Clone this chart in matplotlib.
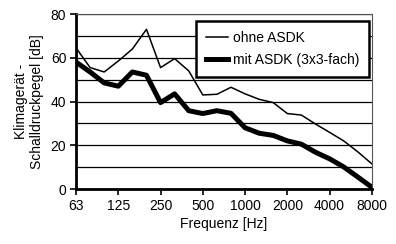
import matplotlib
matplotlib.use("Agg")
import matplotlib.pyplot as plt
import numpy as np

plt.rcParams["font.family"] = ["Liberation Sans", "DejaVu Sans"]

# third-octave band centres, 63 Hz .. 8 kHz
bands = [63, 80, 100, 125, 160, 200, 250, 315, 400, 500, 630, 800,
         1000, 1250, 1600, 2000, 2500, 3150, 4000, 5000, 6300, 8000]
tick_labels = ["63", "125", "250", "500", "1000", "2000", "4000", "8000"]

ohne_asdk = [64.5, 55.5, 53.5, 58.5, 64, 73, 55.5, 59.6, 54, 43, 43.3, 46.5,
             43.5, 41, 39.5, 34.5, 33.8, 29.7, 25.9, 22, 17, 11.5]
mit_asdk = [58, 53.5, 48.5, 47, 53.5, 52, 39.5, 43.5, 35.8, 34.5, 35.8, 34.6,
            28, 25.5, 24.5, 22, 20.5, 16.8, 13.8, 10.1, 5.5, 0.8]

fig = plt.figure(figsize=(3.96, 2.44), dpi=100)
ax = fig.add_axes([0.192, 0.2254, 0.747, 0.7172])

x = np.arange(len(bands))
ax.plot(x, ohne_asdk, color="black", lw=1.1, label="ohne ASDK")
ax.plot(x, mit_asdk, color="black", lw=3.6, label="mit ASDK (3x3-fach)")

ax.set_xlim(0, len(bands) - 1)
ax.set_ylim(0, 80)
ax.set_xticks(x[::3])
ax.set_xticklabels(tick_labels)
ax.set_yticks(np.arange(0, 81, 20))
ax.set_yticks(np.arange(0, 81, 10), minor=True)
ax.yaxis.grid(True, which="both", color="black", lw=0.9)
ax.set_axisbelow(True)
ax.tick_params(axis="both", which="major", labelsize=10, length=4,
               width=1.2, direction="out", pad=3)
ax.tick_params(axis="y", which="minor", length=0)

for side in ["left", "bottom"]:
    ax.spines[side].set_linewidth(2)
for side in ["top", "right"]:
    ax.spines[side].set_linewidth(0.8)
    ax.spines[side].set_color("#555555")

ax.set_xlabel("Frequenz [Hz]", fontsize=10, labelpad=3)
ax.set_ylabel("Klimagerät -\nSchalldruckpegel [dB]", fontsize=10, labelpad=5)

leg = ax.legend(loc="upper right", bbox_to_anchor=(0.99, 0.96), fontsize=10,
                fancybox=False, framealpha=1, edgecolor="black",
                handlelength=1.6, handletextpad=0.35, borderpad=0.7,
                labelspacing=0.6, borderaxespad=0)
leg.get_frame().set_linewidth(1.8)

fig.savefig("out.png", dpi=100)
